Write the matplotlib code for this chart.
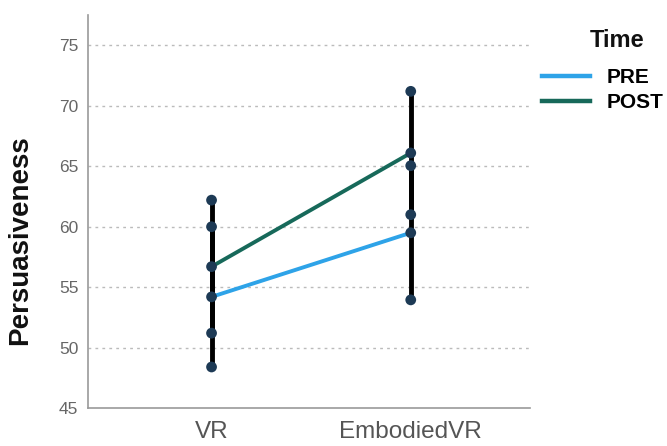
import numpy as np
import matplotlib.pyplot as plt
from matplotlib.lines import Line2D

plt.rcParams['font.family'] = ['Liberation Sans', 'DejaVu Sans']

# data
conditions = ['VR', 'EmbodiedVR']
pre_mean = [54.2, 59.5]
pre_err = [5.8, 5.55]
post_mean = [56.7, 66.1]
post_err = [5.5, 5.1]
yticks = [45, 50, 55, 60, 65, 70, 75]
series_names = ['PRE', 'POST']

pre_color = '#2ea3e8'
post_color = '#17695a'
dot_color = '#1d3a55'

fig = plt.figure(figsize=(6.67, 4.46), dpi=100)
ax = fig.add_axes([0.132, 0.085, 0.663, 0.881])

x = np.arange(len(conditions))

# error bars (black) with dots at ends and means
for means, errs in [(pre_mean, pre_err), (post_mean, post_err)]:
    for xi, m, e in zip(x, means, errs):
        ax.plot([xi, xi], [m - e, m + e], color='black', lw=3.5, zorder=2,
                solid_capstyle='butt')
        ax.scatter([xi, xi, xi], [m - e, m, m + e], s=60, color=dot_color,
                   zorder=4, edgecolors='none')

ax.plot(x, pre_mean, color=pre_color, lw=2.8, zorder=3)
ax.plot(x, post_mean, color=post_color, lw=2.8, zorder=3)

ax.set_xlim(-0.62, 1.6)
ax.set_ylim(45, 77.5)
ax.set_xticks(x)
ax.set_xticklabels(conditions, fontsize=17.5, color='#555555')
ax.set_yticks(yticks)
ax.set_yticklabels([str(t) for t in yticks], fontsize=12.5, color='#666666')
ax.tick_params(axis='y', length=0, pad=7)
ax.tick_params(axis='x', length=0, pad=9)

for t in yticks[1:]:
    ax.axhline(t, color='#bbbbbb', lw=1, ls=(0, (2, 3)), zorder=1)

for s in ['top', 'right']:
    ax.spines[s].set_visible(False)
for s in ['left', 'bottom']:
    ax.spines[s].set_color('#999999')
    ax.spines[s].set_linewidth(1.2)

fig.text(0.03, 0.462, 'Persuasiveness', rotation=90, fontsize=20,
         fontweight='bold', ha='center', va='center', color='#111111')

handles = [Line2D([], [], color=pre_color, lw=3.2),
           Line2D([], [], color=post_color, lw=3.2)]
leg = fig.legend(handles, series_names, loc='upper left',
                 bbox_to_anchor=(0.80, 0.866), frameon=False,
                 prop={'weight': 'bold', 'size': 15}, handlelength=2.3,
                 handletextpad=0.8, labelspacing=0.3, borderaxespad=0)
fig.text(0.925, 0.91, 'Time', fontsize=17, fontweight='bold',
         ha='center', va='center', color='#111111')

fig.savefig('out.png', dpi=100)
